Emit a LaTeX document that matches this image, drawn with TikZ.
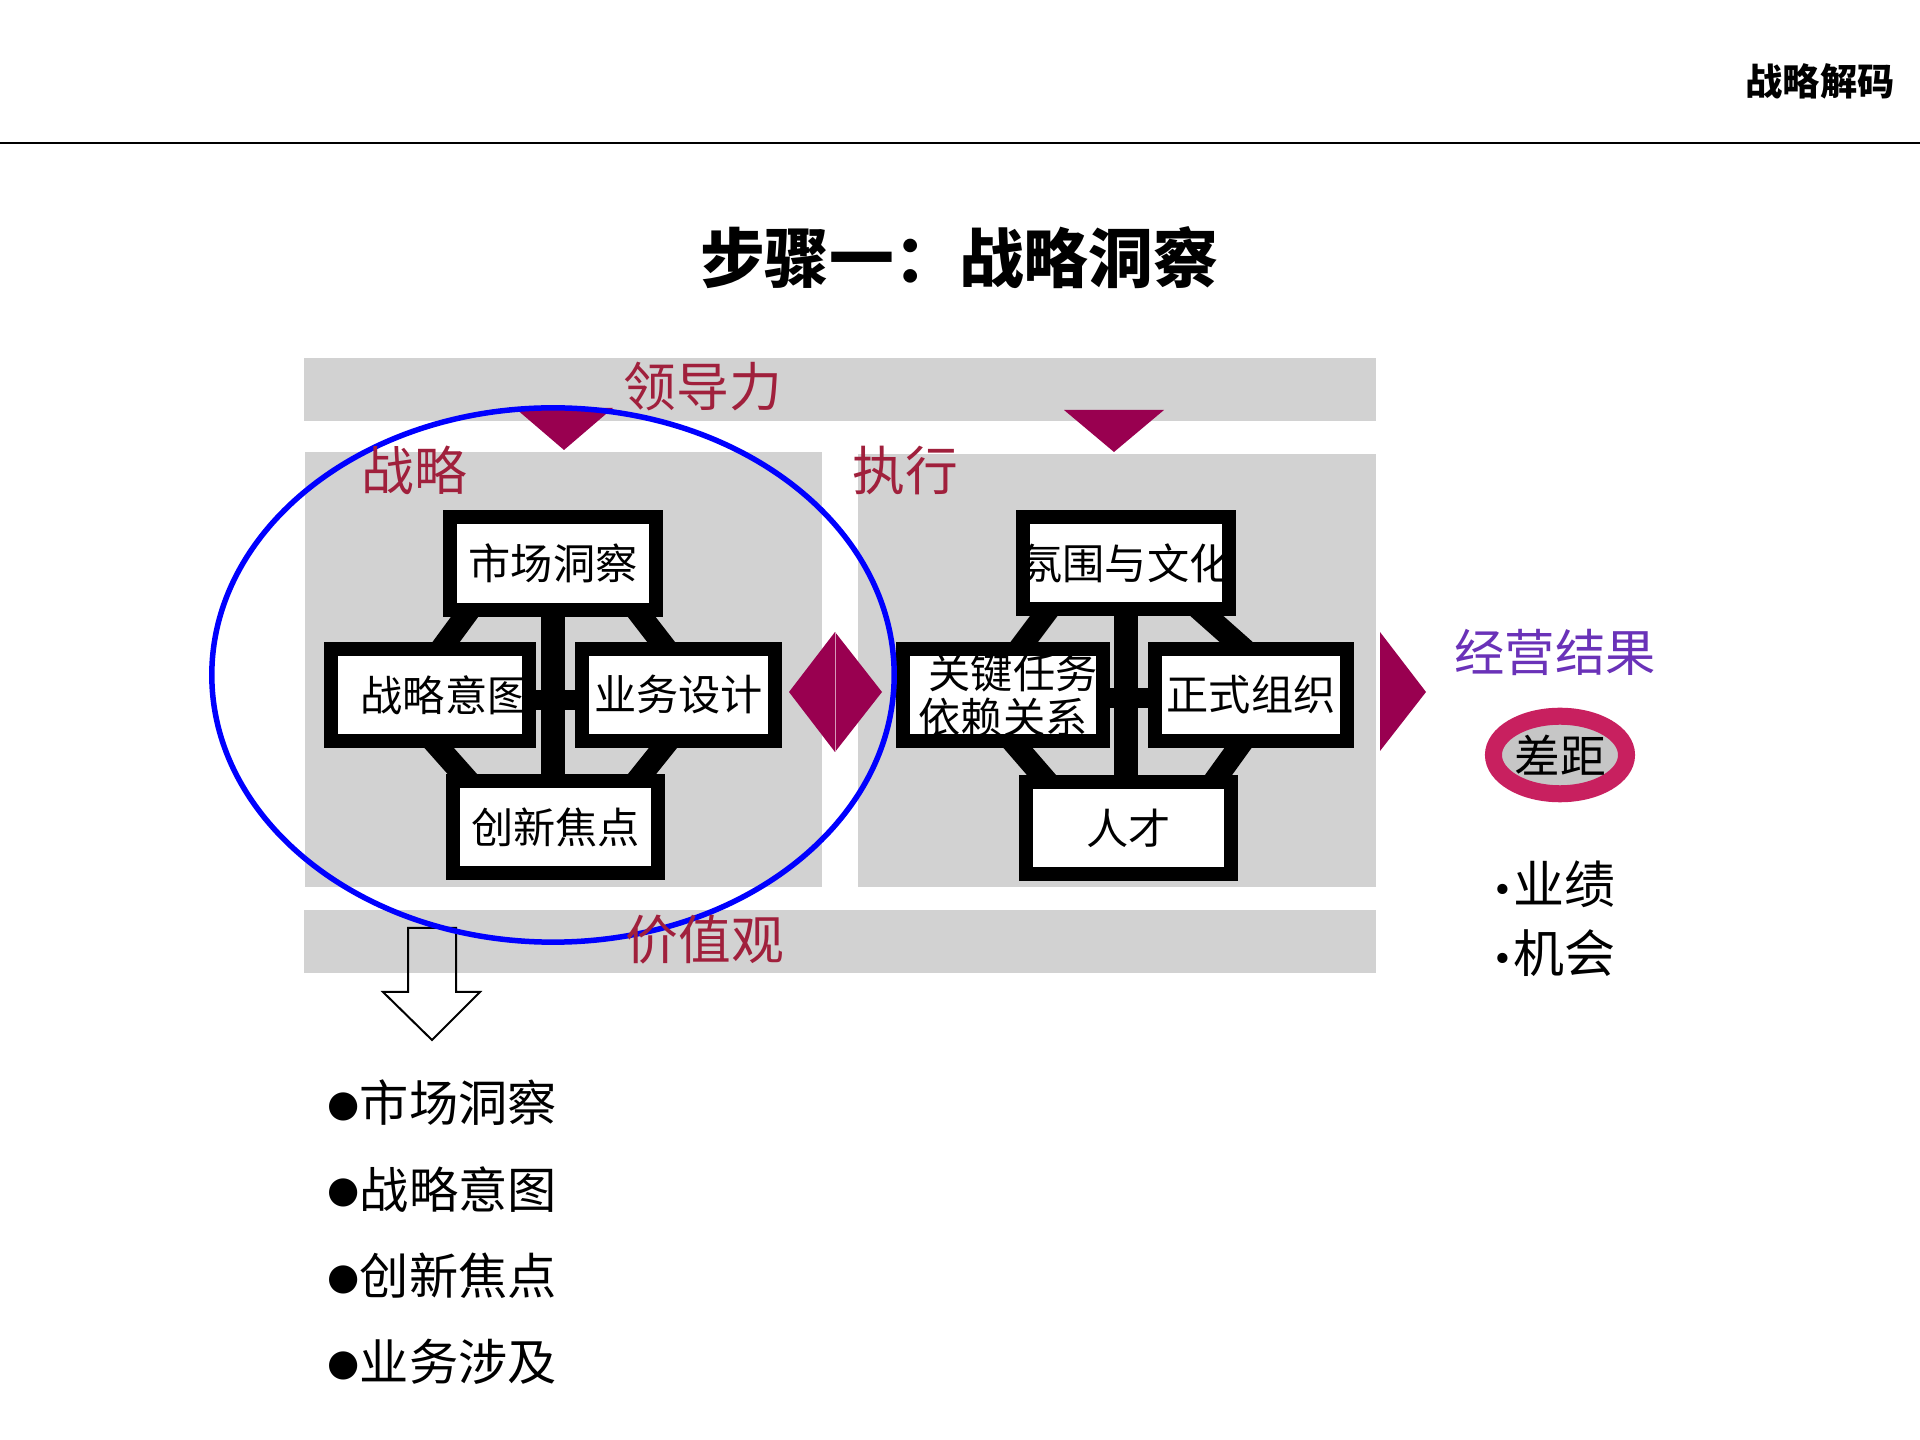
\documentclass[tikz,border=0pt]{standalone}
\usepackage{fontspec}
\setmainfont{Noto Sans CJK SC}
\newfontfamily\dotfont{DejaVu Sans}
\usetikzlibrary{calc,shapes.geometric}
\definecolor{sred}{HTML}{A0203C}
\definecolor{smag}{HTML}{990050}
\definecolor{sgap}{HTML}{C8205F}
\definecolor{spurple}{HTML}{6A32B8}
\definecolor{spanel}{HTML}{D2D2D2}
\pgfdeclarelayer{back}
\pgfdeclarelayer{mid}
\pgfsetlayers{back,mid,main}
\newcommand{\ovr}[2]{\makebox[0pt]{\hspace*{#1}#2}}
\newcommand{\bigdot}{\raisebox{1.5pt}{\dotfont\fontsize{10.5}{12}\selectfont ●}}
\newcommand{\smalldot}{\raisebox{0.5pt}{\dotfont\fontsize{10}{12}\selectfont •}}
\tikzset{
  panel/.style={fill=spanel,draw=none},
  redlbl/.style={text=sred,font=\fontsize{15}{18}\selectfont,inner sep=0pt},
  box/.style={rectangle,draw=black,fill=white,line width=0.14cm,inner sep=0pt,outer sep=0pt,minimum height=0.92cm,align=center,font=\fontsize{12}{13}\selectfont},
  boxframe/.style={draw=black,line width=0.14cm},
  band/.style={draw=black,line width=0.22cm,shorten <=-0.12cm,shorten >=-0.12cm},
  stem/.style={draw=black,line width=0.24cm},
  tri/.style={fill=smag,draw=none},
  listitem/.style={anchor=west,inner sep=0pt,font=\fontsize{14}{16}\selectfont},
}
\begin{document}
\begin{tikzpicture}[x=0.01cm,y=-0.01cm,
  gapring/.style={ellipse,draw=sgap,fill=gray!45,line width=0.17cm,inner sep=0pt,minimum width=1.33cm,minimum height=0.775cm,font=\fontsize{13}{15}\selectfont}]
  \useasboundingbox (0,0) rectangle (1920,1440);
  \begin{pgfonlayer}{back}
    \fill[white] (0,0) rectangle (1920,1440);
    \fill[panel] (304,358) rectangle (1376,421);
    \fill[panel] (305,452) rectangle (822,887);
    \fill[panel] (858,454) rectangle (1376,887);
    \fill[panel] (304,910) rectangle (1376,973);
  \end{pgfonlayer}
  % header
  \node[font=\fontsize{10.6}{12}\selectfont\bfseries] (brand) at (1820,81) {战略解码};
  \draw[line width=0.02cm] (0,143) -- (1920,143);
  \node[font=\fontsize{18.4}{22}\selectfont\bfseries] (title) at (959,258) {步骤一：战略洞察};
  % strategy
  \node[box,minimum width=2.06cm] (mkt) at (553,563.5) {市场洞察};
  \node[box,minimum width=1.98cm] (intent) at (430,695) {\ovr{0.3cm}{战略意图}};
  \node[box,minimum width=1.93cm] (design) at (678.5,695) {业务设计};
  \node[box,minimum width=2.05cm] (innov) at (555.5,827) {创新焦点};
  % execution
  \node[box,minimum width=2.06cm] (culture) at (1126,563) {\ovr{0pt}{氛围与文化}};
  \node[box,minimum width=2.00cm] (task) at (1003,695) {\hspace*{0.2cm}关键任务\\依赖关系};
  \node[box,minimum width=1.92cm] (formal) at (1251,695) {正式组织};
  \node[box,minimum width=2.05cm] (talent) at (1128.5,828) {人才};
  \foreach \bx in {mkt,intent,design,innov,culture,task,formal,talent}
    \draw[boxframe] (\bx.south west) rectangle (\bx.north east);
  \begin{pgfonlayer}{mid}
    \draw[stem] (mkt.south) -- (mkt.south |- innov.north);
    \draw[stem,line width=0.2cm] ($(intent.east)+(0,5)$) -- ($(design.west)+(0,5)$);
    \draw[band] ($(mkt.south)+(-83,0)$) -- ($(intent.north)+(11,0)$);
    \draw[band] ($(mkt.south)+(83,0)$) -- ($(design.north)+(-12,0)$);
    \draw[band] ($(intent.south)+(3,0)$) -- ($(innov.north)+(-87,0)$);
    \draw[band] ($(design.south)+(-10,0)$) -- ($(innov.north)+(81,0)$);
    \draw[stem] (culture.south) -- (culture.south |- talent.north);
    \draw[stem,line width=0.2cm] ($(task.east)+(0,3)$) -- ($(formal.west)+(0,3)$);
    \draw[band] ($(culture.south)+(-77,0)$) -- ($(task.north)+(16,0)$);
    \draw[band] ($(culture.south)+(73,0)$) -- ($(formal.north)+(-7,0)$);
    \draw[band] ($(task.south)+(9,0)$) -- ($(talent.north)+(-81,0)$);
    \draw[band] ($(formal.south)+(-8,0)$) -- ($(talent.north)+(85,0)$);
  \end{pgfonlayer}
  % markers
  \fill[tri] (515,408) -- (613,408) -- (564,450) -- cycle;
  \fill[tri] (1064,410) -- (1164,410) -- (1114,452) -- cycle;
  \fill[tri] (789,692) -- (835,632) -- (882,692) -- (835,752) -- cycle;
  \draw[smag!40!white,line width=0.01cm] (835,632) -- (835,752);
  \fill[tri] (1380,632) -- (1426,692) -- (1380,751) -- cycle;
  % hollow arrow
  \draw[line width=0.02cm,line join=miter] (408,928) -- (456,928) -- (456,992) -- (480,992) -- (432,1040) -- (383,992) -- (408,992) -- cycle;
  \draw[blue,line width=0.055cm] (553,675) ellipse [x radius=3.41cm,y radius=2.67cm];
  \node[redlbl] (lead) at (703,387) {领导力};
  \node[redlbl] (strat) at (414,470) {战略};
  \node[redlbl] (exec) at (905,471) {执行};
  \node[redlbl] (values) at (705,940) {价值观};
  % result
  \node[font=\fontsize{14.3}{16}\selectfont,text=spurple] (result) at (1555,652) {经营结果};
  \node[gapring] (gap) at (1560,755) {差距};
  \node[anchor=west,align=left,inner sep=0pt,font=\fontsize{14.5}{19.6}\selectfont] (gains) at (1492,919) {\smalldot 业绩\\\smalldot 机会};
  \foreach \txt [count=\i] in {市场洞察,战略意图,创新焦点,业务涉及}
    \node[listitem] (item\i) at (327,{1103+86.3*(\i-1)}) {\bigdot\txt};
\end{tikzpicture}
\end{document}
